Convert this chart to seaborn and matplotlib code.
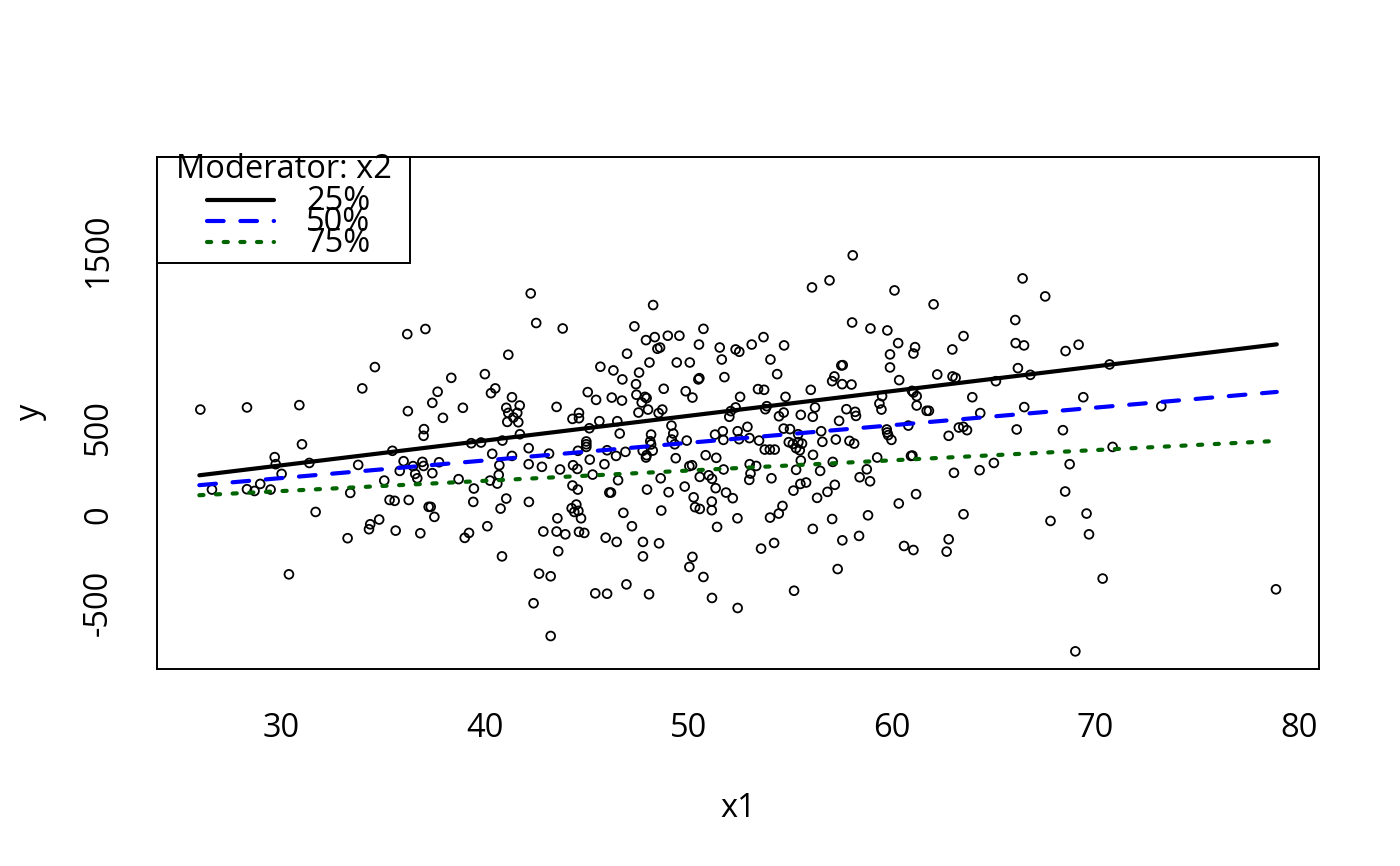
import matplotlib
matplotlib.use("Agg")
import pandas as pd
import seaborn as sns
import matplotlib.pyplot as plt
from matplotlib.lines import Line2D
from matplotlib.patches import Rectangle

sns.set_style("white")
plt.rcParams['font.family'] = ['Open Sans', 'DejaVu Sans']
plt.rcParams['text.color'] = 'black'
plt.rcParams['axes.labelcolor'] = 'black'

x1_vals = [
    26.05, 28.34, 30.91, 34.62, 34.00, 31.04, 29.70, 29.75, 31.40, 30.04, 33.80, 26.62,
    28.34, 28.71, 28.99, 29.50, 33.41, 31.71, 33.28, 34.39, 34.33, 34.83, 30.40,
    42.27, 42.54, 36.21, 37.10, 41.17, 38.37, 40.02, 40.53, 40.32, 37.70, 37.44, 41.35,
    41.73, 41.07, 41.17, 41.61, 41.42, 41.12, 41.66, 41.74, 36.24, 37.96, 38.94, 43.54,
    37.03, 37.01, 39.35, 39.83, 40.88, 35.48, 40.38, 41.35, 42.17, 43.17, 42.17, 42.82,
    43.71, 36.03, 35.84, 36.49, 36.95, 37.01, 36.60, 36.70, 37.44, 37.77, 40.73, 40.70,
    38.73, 40.27, 40.63, 35.08, 39.48, 35.34, 35.59, 36.28, 39.45, 41.07, 42.18, 40.79,
    37.26, 37.36, 37.54, 35.64, 36.85, 39.03, 39.24, 40.14, 42.89, 43.58, 43.54, 43.62,
    40.86, 42.68, 43.25, 42.41, 43.25,
    48.28, 43.84, 47.36, 47.93, 48.36, 49.00, 49.57, 50.75, 48.49, 48.62, 50.53, 51.55,
    52.33, 52.51, 47.00, 48.10, 49.44, 50.08, 51.65, 45.69, 46.33, 47.59, 46.77, 47.44,
    50.50, 50.55, 51.78, 48.80, 49.88, 50.21, 45.07, 45.48, 46.25, 46.75, 47.46, 47.88,
    47.96, 47.72, 48.03, 47.56, 48.55, 48.73, 44.64, 44.32, 44.64, 45.64, 46.52, 45.15,
    46.64, 49.18, 49.27, 49.19, 49.34, 48.18, 48.14, 48.18, 49.93, 52.09, 52.02, 52.33,
    51.32, 51.70, 51.73, 52.43, 52.50, 45.00, 45.00, 45.00, 44.59, 46.02, 46.46, 46.92,
    47.77, 47.93, 47.96, 48.26, 49.39, 44.35, 44.56, 45.17, 45.89, 45.31, 46.56, 48.65,
    50.06, 50.19, 50.86, 51.38, 50.57, 51.01, 51.17, 51.74, 44.32, 44.58, 46.13, 46.21,
    47.98, 49.04, 49.83, 51.35, 51.86, 52.19, 50.27, 51.16, 50.34, 50.57, 51.16, 48.68,
    46.82, 44.28, 44.51, 44.41, 44.61, 44.74, 52.42, 47.24, 51.42, 43.97, 44.64, 44.90,
    45.95, 46.49, 47.78, 48.57, 47.78, 50.21, 50.06, 50.75, 46.97, 45.44, 46.02, 48.08,
    51.17, 52.43,
    58.08, 56.08, 56.94, 60.13, 58.05, 58.95, 59.78, 60.31, 61.14, 61.06, 59.91, 59.91,
    60.36, 60.99, 61.06, 61.22, 61.22, 53.12, 53.70, 54.71, 54.04, 54.37, 52.55, 53.43,
    53.73, 54.78, 53.86, 53.79, 54.69, 54.46, 55.53, 56.12, 56.23, 56.02, 57.52, 57.59,
    57.18, 57.07, 57.56, 58.02, 57.77, 58.20, 58.24, 57.41, 59.52, 59.39, 59.49, 52.91,
    53.01, 53.48, 54.69, 55.00, 55.40, 54.94, 55.14, 55.41, 55.59, 55.30, 55.48, 53.76,
    54.01, 54.25, 56.53, 56.59, 57.25, 57.92, 58.15, 59.75, 59.77, 59.82, 59.98, 60.81,
    56.13, 55.53, 55.30, 57.10, 56.48, 53.02, 53.34, 53.06, 53.00, 54.09, 59.28, 60.94,
    61.01, 58.77, 58.42, 58.93, 55.17, 55.51, 55.79, 56.33, 56.84, 57.20, 54.63, 54.45,
    54.02, 56.12, 57.07, 58.83, 60.34, 61.19, 58.39, 57.57, 54.22, 53.58, 60.60, 61.06,
    57.34, 55.20,
    66.42, 67.53, 62.05, 66.06, 63.52, 66.08, 66.49, 68.53, 69.17, 62.97, 62.23, 62.98,
    63.13, 65.11, 66.19, 66.80, 63.95, 66.50, 69.40, 61.71, 61.82, 64.34, 62.79, 63.29,
    63.51, 63.69, 66.13, 68.40, 63.05, 64.31, 65.01, 68.73, 68.51, 63.52, 67.79, 69.56,
    69.68, 62.79, 62.69, 69.01,
    70.69, 73.23, 70.84, 70.35, 78.86,
]
y_vals = [
    597, 609, 622, 838, 717, 400, 327, 287, 294, 232, 283, 143,
    145, 135, 175, 143, 124, 16, -133, -54, -82, -27, -338,
    1256, 1088, 1025, 1054, 908, 777, 798, 717, 690, 698, 635, 667,
    620, 607, 578, 578, 552, 527, 525, 457, 588, 550, 607, 612,
    486, 448, 406, 410, 421, 363, 346, 334, 378, 347, 287, 272,
    257, 304, 249, 276, 300, 277, 232, 207, 236, 298, 281, 226,
    202, 194, 177, 194, 149, 84, 79, 84, 73, 92, 73, 35,
    45, 45, -12, -90, -105, -131, -103, -65, -95, -20, -95, -207,
    -236, -334, -349, -502, -688,
    1190, 1057, 1069, 991, 1008, 1016, 1016, 1055, 942, 949, 966, 949,
    938, 925, 914, 864, 864, 864, 881, 840, 819, 807, 768, 741,
    768, 775, 781, 715, 701, 665, 696, 652, 665, 648, 681, 669,
    662, 637, 597, 580, 577, 597, 578, 544, 548, 531, 531, 491,
    461, 506, 461, 427, 400, 455, 417, 399, 421, 588, 556, 609,
    455, 474, 425, 474, 429, 416, 400, 385, 363, 366, 334, 357,
    363, 325, 338, 364, 321, 281, 260, 313, 287, 228, 196, 207,
    276, 281, 338, 323, 215, 224, 204, 257, 166, 143, 126, 126,
    143, 128, 160, 151, 126, 94, 99, 75, 43, 33, 26, 24,
    11, 37, 58, 16, 22, -20, -20, -65, -69, -111, -97, -103,
    -130, -154, -154, -162, -236, -239, -296, -353, -395, -446, -448, -451,
    -472, -529,
    1472, 1290, 1330, 1273, 1091, 1057, 1046, 974, 951, 915, 910, 836,
    764, 703, 694, 673, 620, 966, 1008, 961, 881, 798, 669, 713,
    709, 669, 616, 599, 580, 559, 567, 556, 609, 709, 847, 849,
    785, 758, 741, 739, 599, 584, 561, 533, 673, 631, 597, 499,
    435, 421, 489, 486, 457, 412, 402, 412, 404, 378, 366, 370,
    370, 370, 474, 414, 427, 419, 404, 484, 467, 452, 425, 506,
    340, 308, 255, 300, 249, 287, 277, 234, 198, 207, 325, 334,
    336, 258, 213, 190, 137, 175, 183, 96, 130, 170, 50, 7,
    -16, -80, -24, -3, 64, 117, -120, -145, -160, -192, -177, -200,
    -308, -431,
    1341, 1239, 1194, 1105, 1014, 974, 961, 929, 965, 938, 796, 785,
    777, 758, 832, 794, 667, 611, 667, 590, 590, 577, 448, 495,
    499, 480, 484, 480, 238, 253, 294, 287, 132, 3, -35, 7,
    -111, -139, -209, -775,
    853, 616, 385, -362, -423,
]

# fitted simple slopes at the moderator quantiles
x_ends = [26.0, 78.9]
y_q25 = [224, 967]
y_q50 = [168, 697]
y_q75 = [111, 419]
quant_labels = ["25%", "50%", "75%"]

x_ticks = [30, 40, 50, 60, 70, 80]
y_ticks = [-500, 0, 500, 1000, 1500, 2000]
y_tick_labels = ["-500", "0", "500", "", "1500", ""]

pts = pd.DataFrame({"x1": x1_vals, "y": y_vals})

fig = plt.figure(figsize=(14, 8.66), dpi=100)
ax = fig.add_axes([0.1124, 0.2271, 0.83, 0.5916])

sns.scatterplot(data=pts, x="x1", y="y", marker="o", s=40, color="black",
                facecolors="none", edgecolor="black", linewidth=1.3,
                legend=False, ax=ax)

line_colors = ["black", "blue", "darkgreen"]
line_dashes = [None, (4, 4), (1, 3)]
for yv, col, dsh in zip([y_q25, y_q50, y_q75], line_colors, line_dashes):
    sns.lineplot(x=x_ends, y=yv, color=col, linewidth=3.0, ax=ax)
    ln = ax.lines[-1]
    ln.set_solid_capstyle("round")
    if dsh is not None:
        ln.set_dashes(dsh)
        ln.set_dash_capstyle("round")

ax.set_xlim(23.94, 80.99)
ax.set_ylim(-877, 2030)
ax.set_xticks(x_ticks)
ax.set_yticks(y_ticks)
ax.set_yticklabels(y_tick_labels, rotation=90, va="center")
ax.tick_params(axis="both", direction="out", length=14.4, width=1.4,
               labelsize=23.5, color="black", labelcolor="black")
ax.tick_params(axis="x", pad=16)
ax.tick_params(axis="y", pad=16)
for sp in ax.spines.values():
    sp.set_color("black")
    sp.set_linewidth(1.4)
ax.set_xlabel("x1", fontsize=23.5, labelpad=34)
ax.set_ylabel("y", fontsize=23.5, labelpad=25)

# legend box in the top-left corner, drawn like R's legend()
fig.add_artist(Rectangle((0.1121, 0.6963), 0.1808, 0.1224, transform=fig.transFigure,
                         facecolor="white", edgecolor="black", linewidth=1.4, zorder=5))
fig.text(0.2029, 0.7945, "Moderator: x2", ha="center", va="baseline",
         fontsize=23.5, zorder=6)
leg_y_line = [0.7691, 0.7452, 0.7206]
leg_y_text = [0.7575, 0.7336, 0.7094]
for lab, col, dsh, yl, yt in zip(quant_labels, line_colors, line_dashes, leg_y_line, leg_y_text):
    l2 = Line2D([0.1479, 0.1957], [yl, yl], transform=fig.transFigure, color=col,
                linewidth=3.0, solid_capstyle="round", zorder=6)
    if dsh is not None:
        l2.set_dashes(dsh)
        l2.set_dash_capstyle("round")
    fig.add_artist(l2)
    fig.text(0.2186, yt, lab, ha="left", va="baseline", fontsize=23.5, zorder=6)

plt.savefig("out.png", dpi=100, facecolor="white")
